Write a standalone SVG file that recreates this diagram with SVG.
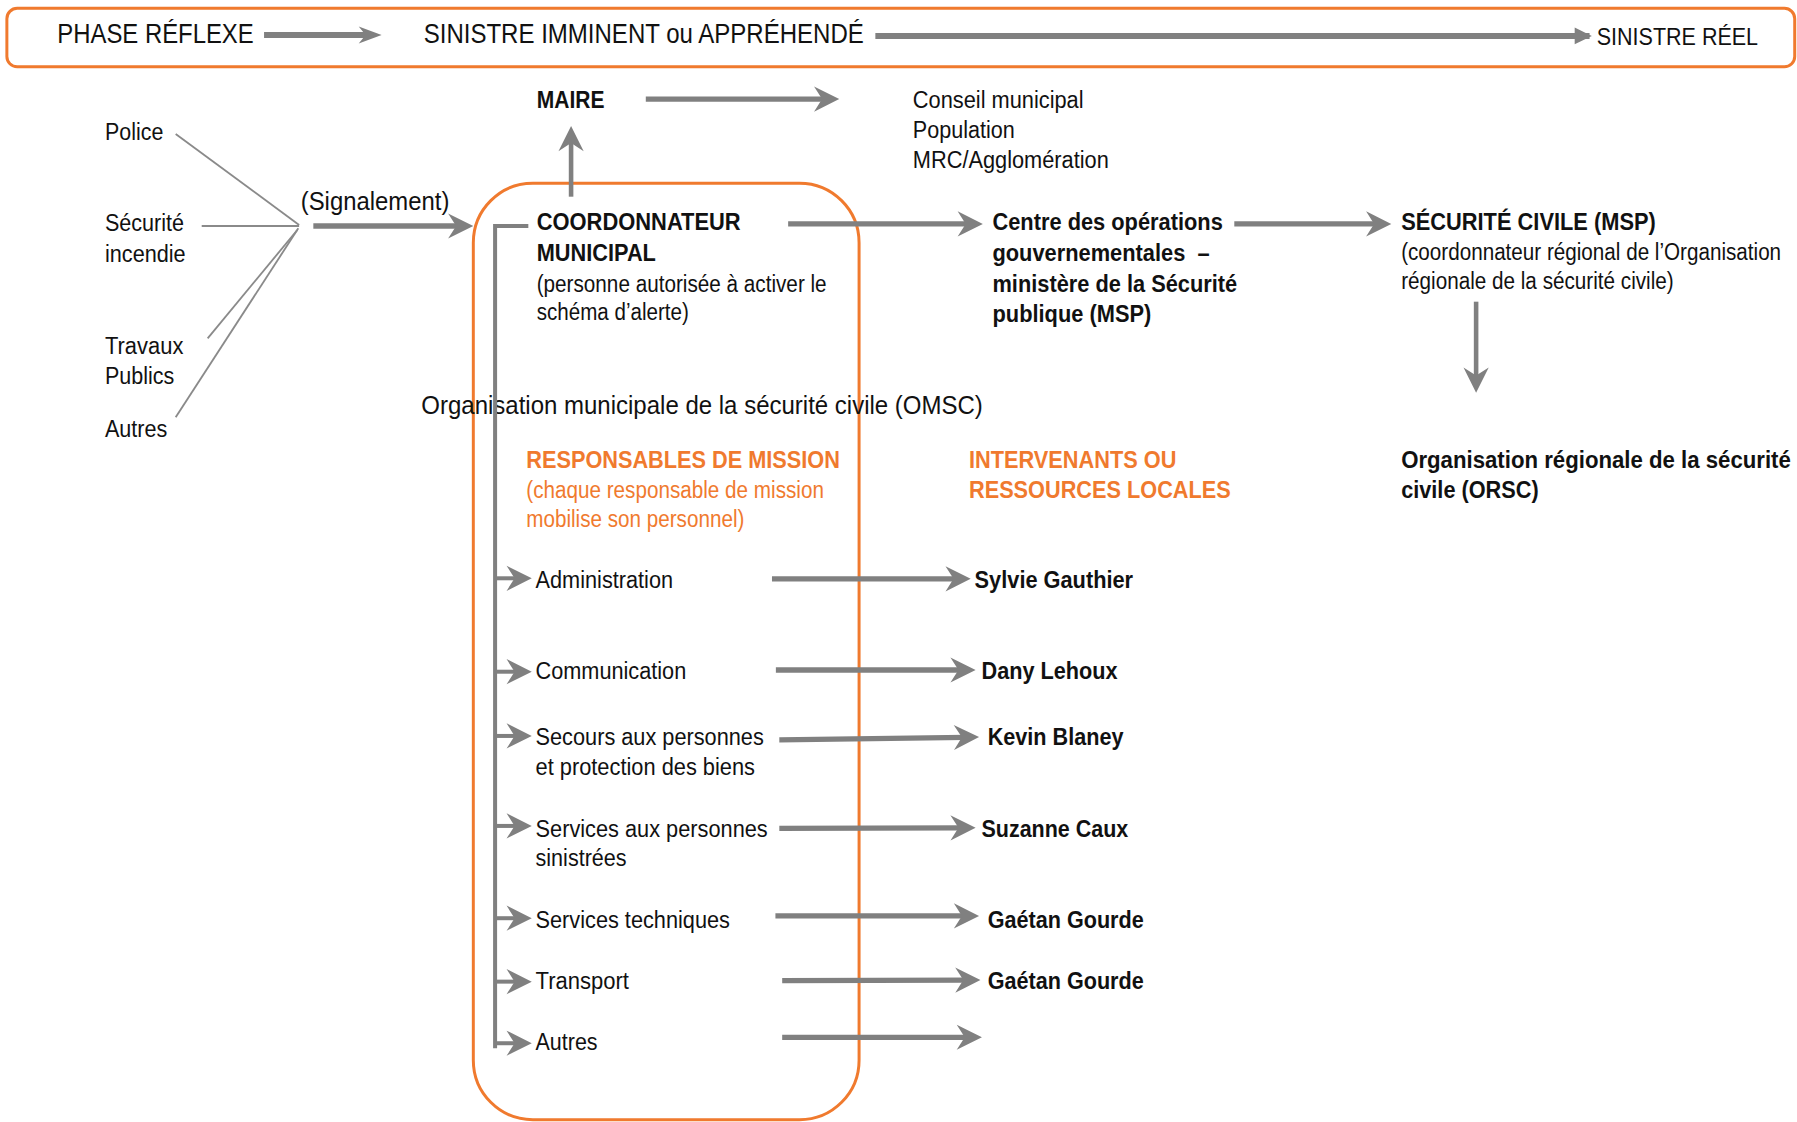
<svg xmlns="http://www.w3.org/2000/svg" width="1797" height="1122" viewBox="0 0 1797 1122">
<defs>
<style>
text{font-family:"Liberation Sans Narrow","Liberation Sans",Arial,sans-serif;font-size:21px;fill:#111}
.b{font-weight:bold}
.o{fill:#F07A2E}
.big{font-size:24.5px}
.mid{font-size:22.5px}
.arr{stroke:#808080;stroke-width:4.6;fill:none;marker-end:url(#ah)}
.bus{stroke:#808080;stroke-width:3.5;fill:none}
.br{stroke:#808080;stroke-width:3.5;fill:none;marker-end:url(#ah)}
.thin{stroke:#8a8a8a;stroke-width:1.6;fill:none}
.frame{fill:none;stroke:#F07A2E;stroke-width:2.6}
</style>
<marker id="ah" markerUnits="userSpaceOnUse" orient="auto" overflow="visible" refX="0" refY="0" markerWidth="30" markerHeight="30"><path d="M-10,-11 L12,0 L-10,11 L-3,0 Z" fill="#808080"/></marker>
<marker id="ahm" markerUnits="userSpaceOnUse" orient="auto" overflow="visible" refX="0" refY="0" markerWidth="30" markerHeight="30"><path d="M-10,-7.5 L10,0 L-10,7.5 L-4,0 Z" fill="#808080"/></marker>
<marker id="tri" markerUnits="userSpaceOnUse" orient="auto" overflow="visible" refX="0" refY="0" markerWidth="30" markerHeight="30"><path d="M-13,-7.3 L2,0 L-13,7.3 Z" fill="#808080"/></marker>
</defs>
<rect width="1797" height="1122" fill="#ffffff"/>
<g transform="scale(1.14605,1.14490)">
<g id="phase-bar">
<rect class="frame" x="6" y="7.3" width="1560" height="51" rx="9"/>
<text class="big" x="50" y="37.9" textLength="171.4" lengthAdjust="spacingAndGlyphs">PHASE RÉFLEXE</text>
<text class="big" x="369.7" y="37.9" textLength="384" lengthAdjust="spacingAndGlyphs">SINISTRE IMMINENT ou APPRÉHENDÉ</text>
<text x="1393.3" y="39.3" style="font-size:21.5px" textLength="140.7" lengthAdjust="spacingAndGlyphs">SINISTRE RÉEL</text>
</g>
<g id="maire">
<text class="b" x="468.3" y="94.6" textLength="59.1" lengthAdjust="spacingAndGlyphs">MAIRE</text>
</g>
<g id="destinataires">
<text x="796.5" y="94.6" textLength="149" lengthAdjust="spacingAndGlyphs">Conseil municipal</text>
<text x="796.5" y="120.8" textLength="89" lengthAdjust="spacingAndGlyphs">Population</text>
<text x="796.5" y="147" textLength="171" lengthAdjust="spacingAndGlyphs">MRC/Agglomération</text>
</g>
<g id="police"><text x="91.6" y="122.3" textLength="50.9" lengthAdjust="spacingAndGlyphs">Police</text></g>
<g id="securite-incendie">
<text x="91.6" y="201.5" textLength="69" lengthAdjust="spacingAndGlyphs">Sécurité</text>
<text x="91.6" y="228.5" textLength="70.4" lengthAdjust="spacingAndGlyphs">incendie</text>
</g>
<g id="travaux-publics">
<text x="91.6" y="309" textLength="68.4" lengthAdjust="spacingAndGlyphs">Travaux</text>
<text x="91.6" y="335.5" textLength="60.5" lengthAdjust="spacingAndGlyphs">Publics</text>
</g>
<g id="autres-signal"><text x="91.6" y="381.8" textLength="54.4" lengthAdjust="spacingAndGlyphs">Autres</text></g>
<g id="signalement"><text class="mid" x="262.4" y="183.4" textLength="129.7" lengthAdjust="spacingAndGlyphs">(Signalement)</text></g>
<g id="omsc">
<rect class="frame" x="413" y="160" width="336.6" height="818" rx="52"/>
<text class="mid" x="367.6" y="362" textLength="490" lengthAdjust="spacingAndGlyphs">Organisation municipale de la sécurité civile (OMSC)</text>
</g>
<g id="coordonnateur">
<text class="b" x="468.3" y="200.9" textLength="178" lengthAdjust="spacingAndGlyphs">COORDONNATEUR</text>
<text class="b" x="468.3" y="228" textLength="104" lengthAdjust="spacingAndGlyphs">MUNICIPAL</text>
<text x="468.3" y="254.7" textLength="253" lengthAdjust="spacingAndGlyphs">(personne autorisée à activer le</text>
<text x="468.3" y="279.5" textLength="132.7" lengthAdjust="spacingAndGlyphs">schéma d’alerte)</text>
</g>
<g id="cog">
<text class="b" x="866" y="200.9" textLength="201" lengthAdjust="spacingAndGlyphs">Centre des opérations</text>
<text class="b" x="866" y="227.7" xml:space="preserve" textLength="189.4" lengthAdjust="spacingAndGlyphs">gouvernementales  –</text>
<text class="b" x="866" y="254.7" textLength="213.5" lengthAdjust="spacingAndGlyphs">ministère de la Sécurité</text>
<text class="b" x="866" y="280.9" textLength="138.6" lengthAdjust="spacingAndGlyphs">publique (MSP)</text>
</g>
<g id="securite-civile">
<text class="b" x="1222.6" y="200.9" textLength="222.2" lengthAdjust="spacingAndGlyphs">SÉCURITÉ CIVILE (MSP)</text>
<text transform="translate(1222.6,227.1) scale(0.86,1)" x="0" y="0" textLength="385.5" lengthAdjust="spacingAndGlyphs">(coordonnateur régional de l’Organisation</text>
<text x="1222.6" y="252.4" textLength="237.8" lengthAdjust="spacingAndGlyphs">régionale de la sécurité civile)</text>
</g>
<g id="orsc">
<text class="b" transform="translate(1222.6,409) scale(0.88,1)" x="0" y="0" textLength="386.4" lengthAdjust="spacingAndGlyphs">Organisation régionale de la sécurité</text>
<text class="b" x="1222.6" y="435.2" textLength="120" lengthAdjust="spacingAndGlyphs">civile (ORSC)</text>
</g>
<g id="responsables">
<text class="b o" x="459.2" y="409" textLength="273.7" lengthAdjust="spacingAndGlyphs">RESPONSABLES DE MISSION</text>
<text class="o" x="459.2" y="435.2" textLength="259.7" lengthAdjust="spacingAndGlyphs">(chaque responsable de mission</text>
<text class="o" x="459.2" y="460" textLength="190.3" lengthAdjust="spacingAndGlyphs">mobilise son personnel)</text>
</g>
<g id="intervenants">
<text class="b o" x="845.5" y="409" textLength="181" lengthAdjust="spacingAndGlyphs">INTERVENANTS OU</text>
<text class="b o" x="845.5" y="435.2" textLength="228.4" lengthAdjust="spacingAndGlyphs">RESSOURCES LOCALES</text>
</g>
<g id="m-administration"><text x="467.3" y="513.3" textLength="120" lengthAdjust="spacingAndGlyphs">Administration</text></g>
<g id="r-sylvie"><text class="b" x="850.4" y="513.3" textLength="138.3" lengthAdjust="spacingAndGlyphs">Sylvie Gauthier</text></g>
<g id="m-communication"><text x="467.3" y="593.3" textLength="131.5" lengthAdjust="spacingAndGlyphs">Communication</text></g>
<g id="r-dany"><text class="b" x="856.4" y="593.3" textLength="118.8" lengthAdjust="spacingAndGlyphs">Dany Lehoux</text></g>
<g id="m-secours">
<text x="467.3" y="650.7" textLength="199.2" lengthAdjust="spacingAndGlyphs">Secours aux personnes</text>
<text x="467.3" y="676.9" textLength="191.5" lengthAdjust="spacingAndGlyphs">et protection des biens</text>
</g>
<g id="r-kevin"><text class="b" x="861.8" y="650.7" textLength="118.5" lengthAdjust="spacingAndGlyphs">Kevin Blaney</text></g>
<g id="m-services">
<text x="467.3" y="730.8" textLength="202.6" lengthAdjust="spacingAndGlyphs">Services aux personnes</text>
<text x="467.3" y="756.4" textLength="79.5" lengthAdjust="spacingAndGlyphs">sinistrées</text>
</g>
<g id="r-suzanne"><text class="b" x="856.4" y="730.8" textLength="128.1" lengthAdjust="spacingAndGlyphs">Suzanne Caux</text></g>
<g id="m-techniques"><text x="467.3" y="810.8" textLength="169.6" lengthAdjust="spacingAndGlyphs">Services techniques</text></g>
<g id="r-gaetan1"><text class="b" x="861.8" y="810.8" textLength="136.2" lengthAdjust="spacingAndGlyphs">Gaétan Gourde</text></g>
<g id="m-transport"><text x="467.3" y="864.1" textLength="81.5" lengthAdjust="spacingAndGlyphs">Transport</text></g>
<g id="r-gaetan2"><text class="b" x="861.8" y="864.1" textLength="136.2" lengthAdjust="spacingAndGlyphs">Gaétan Gourde</text></g>
<g id="m-autres"><text x="467.3" y="917" textLength="54.1" lengthAdjust="spacingAndGlyphs">Autres</text></g>
<g id="connectors">
<line x1="230.4" y1="30.6" x2="323" y2="30.6" stroke="#808080" stroke-width="5.2" marker-end="url(#ahm)"/>
<line x1="763.8" y1="31.4" x2="1387" y2="31.4" stroke="#808080" stroke-width="5.2" marker-end="url(#tri)"/>
<line class="arr" x1="563.5" y1="86.5" x2="720.3" y2="86.5"/>
<line class="arr" x1="498.3" y1="171.8" x2="498.3" y2="122" style="stroke-width:4"/>
<line class="thin" x1="153.3" y1="117" x2="261" y2="196.5"/>
<line class="thin" x1="176" y1="197.4" x2="261" y2="197.4"/>
<line class="thin" x1="181.2" y1="295.5" x2="259.4" y2="200.9"/>
<line class="thin" x1="153.3" y1="364.5" x2="260.3" y2="199.4"/>
<line class="arr" x1="273.4" y1="197.4" x2="401" y2="197.4" style="stroke-width:5"/>
<line class="arr" x1="687.7" y1="195.6" x2="845.6" y2="195.6"/>
<line class="arr" x1="1077" y1="195.6" x2="1202" y2="195.6"/>
<line class="arr" x1="1288" y1="263.5" x2="1288" y2="331" style="stroke-width:4"/>
<path class="bus" d="M461,197.4 H432 V915.6"/>
<line class="br" x1="432" y1="505.1" x2="452" y2="505.1"/>
<line class="br" x1="432" y1="586.7" x2="452" y2="586.7"/>
<line class="br" x1="432" y1="642.8" x2="452" y2="642.8"/>
<line class="br" x1="432" y1="721.4" x2="452" y2="721.4"/>
<line class="br" x1="432" y1="802" x2="452" y2="802"/>
<line class="br" x1="432" y1="857.4" x2="452" y2="857.4"/>
<line class="br" x1="432" y1="911.2" x2="452" y2="911.2"/>
<line class="arr" x1="673.6" y1="505.6" x2="835" y2="505.6"/>
<line class="arr" x1="677" y1="585.2" x2="839.3" y2="585.2"/>
<line class="arr" x1="680" y1="646.3" x2="842.3" y2="644"/>
<line class="arr" x1="680" y1="723.5" x2="839.3" y2="723"/>
<line class="arr" x1="676.6" y1="800" x2="842.3" y2="800"/>
<line class="arr" x1="682.5" y1="856.5" x2="843.5" y2="856"/>
<line class="arr" x1="682.5" y1="906" x2="844.8" y2="906"/>
</g>
</g>
</svg>
